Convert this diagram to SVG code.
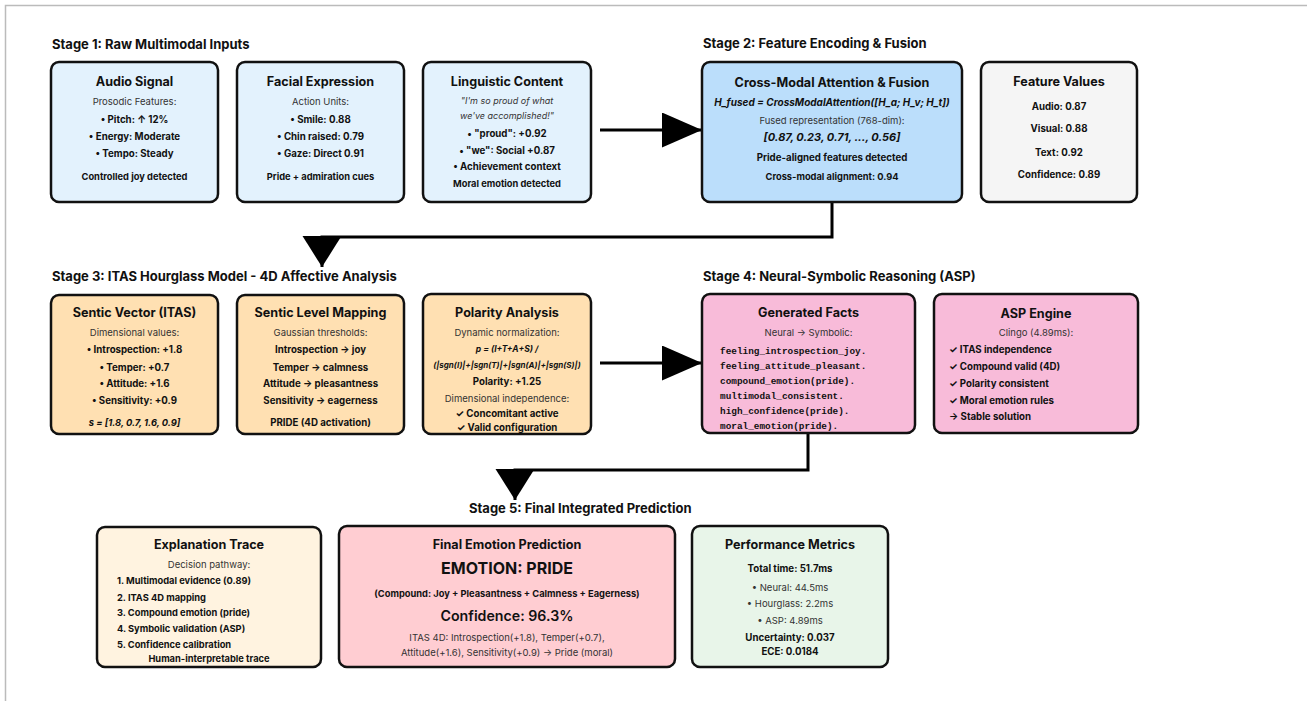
<svg xmlns="http://www.w3.org/2000/svg" width="1307" height="701" viewBox="0 0 1307 701">
<style>
text{font-family:Inter,"Liberation Sans",sans-serif;fill:#111;text-anchor:middle}
.st{font-size:13px;font-weight:700;text-anchor:start}
.bt{font-size:12.6px;font-weight:700}
.sub{font-size:9.5px;fill:#333}
.b{font-size:9.7px;font-weight:700}
.bs{font-size:9.3px;font-weight:700}
.it{font-size:9px;font-style:italic;fill:#333}
.bi{font-weight:700;font-style:italic}
.mono{font-family:"Liberation Mono","DejaVu Sans Mono",monospace;font-size:9.4px;font-weight:700;text-anchor:start}
.l{text-anchor:start}
.box{stroke:#111;stroke-width:2.5}
.c{fill:none;stroke:#000;stroke-width:3}
.frame{stroke:#bbb;stroke-width:1.5;fill:none}
</style>
<defs>
<marker id="ah" markerUnits="userSpaceOnUse" markerWidth="42" markerHeight="36" refX="40" refY="17.5" orient="auto"><path d="M0,0 L40,17.5 L0,35 z" fill="#000"/></marker>
<marker id="ahd" markerUnits="userSpaceOnUse" markerWidth="33" markerHeight="40" refX="31" refY="19.5" orient="auto"><path d="M0,0 L31,19.5 L0,39 z" fill="#000"/></marker>
</defs>
<rect width="1307" height="701" fill="#fff"/>
<path class="frame" d="M5.5,701 V5.5 H1307"/>

<text class="st" x="52" y="49">Stage 1: Raw Multimodal Inputs</text>
<text class="st" x="703" y="48">Stage 2: Feature Encoding &amp; Fusion</text>
<text class="st" x="52" y="281">Stage 3: ITAS Hourglass Model - 4D Affective Analysis</text>
<text class="st" x="703" y="281">Stage 4: Neural-Symbolic Reasoning (ASP)</text>
<text class="st" x="469" y="513">Stage 5: Final Integrated Prediction</text>

<g id="connectors">
<path class="c" d="M600,130 H702" marker-end="url(#ah)"/>
<path class="c" d="M832,202 V237 H322 V267" marker-end="url(#ahd)"/>
<path class="c" d="M600,363 H702" marker-end="url(#ah)"/>
<path class="c" d="M808,433 V470 H515 V500" marker-end="url(#ahd)"/>
</g>

<g id="audio">
<rect class="box" x="51" y="62" width="167" height="140" rx="8" fill="#e3f2fd"/>
<text class="bt" x="134.5" y="86">Audio Signal</text>
<text class="sub" x="134.5" y="105">Prosodic Features:</text>
<text class="b" x="134.5" y="123">• Pitch: ↑ 12%</text>
<text class="b" x="134.5" y="140">• Energy: Moderate</text>
<text class="b" x="134.5" y="157">• Tempo: Steady</text>
<text class="bs" x="134.5" y="180">Controlled joy detected</text>
</g>
<g id="facial">
<rect class="box" x="237" y="62" width="167" height="140" rx="8" fill="#e3f2fd"/>
<text class="bt" x="320.5" y="86">Facial Expression</text>
<text class="sub" x="320.5" y="105">Action Units:</text>
<text class="b" x="320.5" y="123">• Smile: 0.88</text>
<text class="b" x="320.5" y="140">• Chin raised: 0.79</text>
<text class="b" x="320.5" y="157">• Gaze: Direct 0.91</text>
<text class="bs" x="320.5" y="180">Pride + admiration cues</text>
</g>
<g id="linguistic">
<rect class="box" x="423" y="62" width="168" height="140" rx="8" fill="#e3f2fd"/>
<text class="bt" x="507" y="86">Linguistic Content</text>
<text class="it" x="507" y="103.5">"I'm so proud of what</text>
<text class="it" x="507" y="119">we've accomplished!"</text>
<text class="b" x="507" y="137">• "proud": +0.92</text>
<text class="b" x="507" y="154">• "we": Social +0.87</text>
<text class="b" x="507" y="170">• Achievement context</text>
<text class="bs" x="507" y="187">Moral emotion detected</text>
</g>
<g id="fusion">
<rect class="box" x="702" y="62" width="260" height="140" rx="8" fill="#bbdefb"/>
<text class="bt" x="832" y="87">Cross-Modal Attention &amp; Fusion</text>
<text class="bi" x="832" y="105.5" font-size="10">H_fused = CrossModalAttention([H_a; H_v; H_t])</text>
<text class="sub" x="832" y="123.5" font-size="9">Fused representation (768-dim):</text>
<text class="bi" x="832" y="141" font-size="11">[0.87, 0.23, 0.71, ..., 0.56]</text>
<text class="b" x="832" y="161">Pride-aligned features detected</text>
<text class="bs" x="832" y="180">Cross-modal alignment: 0.94</text>
</g>
<g id="features">
<rect class="box" x="981" y="62" width="156" height="140" rx="8" fill="#f5f5f5"/>
<text class="bt" x="1059" y="86">Feature Values</text>
<text class="b" x="1059" y="110">Audio: 0.87</text>
<text class="b" x="1059" y="132">Visual: 0.88</text>
<text class="b" x="1059" y="156">Text: 0.92</text>
<text class="b" x="1059" y="178">Confidence: 0.89</text>
</g>

<g id="sentic-vector">
<rect class="box" x="51" y="295" width="167" height="139" rx="8" fill="#ffe0b2"/>
<text class="bt" x="134.5" y="317">Sentic Vector (ITAS)</text>
<text class="sub" x="134.5" y="335.5">Dimensional values:</text>
<text class="b" x="134.5" y="353">• Introspection: +1.8</text>
<text class="b" x="134.5" y="370.5">• Temper: +0.7</text>
<text class="b" x="134.5" y="387">• Attitude: +1.6</text>
<text class="b" x="134.5" y="404">• Sensitivity: +0.9</text>
<text class="bi" x="134.5" y="425.5" font-size="9.3">s = [1.8, 0.7, 1.6, 0.9]</text>
</g>
<g id="sentic-level">
<rect class="box" x="237" y="295" width="167" height="139" rx="8" fill="#ffe0b2"/>
<text class="bt" x="320.5" y="317">Sentic Level Mapping</text>
<text class="sub" x="320.5" y="335.5">Gaussian thresholds:</text>
<text class="b" x="320.5" y="353">Introspection → joy</text>
<text class="b" x="320.5" y="370.5">Temper → calmness</text>
<text class="b" x="320.5" y="387">Attitude → pleasantness</text>
<text class="b" x="320.5" y="404">Sensitivity → eagerness</text>
<text class="b" x="320.5" y="425.5">PRIDE (4D activation)</text>
</g>
<g id="polarity">
<rect class="box" x="423" y="294" width="168" height="140" rx="8" fill="#ffe0b2"/>
<text class="bt" x="507" y="317">Polarity Analysis</text>
<text class="sub" x="507" y="335.5">Dynamic normalization:</text>
<text class="bi" x="507" y="352" font-size="8.5">p = (I+T+A+S) /</text>
<text class="bi" x="507" y="368" font-size="8">(|sgn(I)|+|sgn(T)|+|sgn(A)|+|sgn(S)|)</text>
<text class="b" x="507" y="385" font-size="11">Polarity: +1.25</text>
<text class="sub" x="507" y="401.5">Dimensional independence:</text>
<text class="b" x="507" y="417" font-size="10.5">✓ Concomitant active</text>
<text class="b" x="507" y="431" font-size="10.5">✓ Valid configuration</text>
</g>
<g id="facts">
<rect class="box" x="702" y="294" width="213" height="139" rx="8" fill="#f8bbd9"/>
<text class="bt" x="808.5" y="317">Generated Facts</text>
<text class="sub" x="808.5" y="335.5">Neural → Symbolic:</text>
<text class="mono" x="720" y="354">feeling_introspection_joy.</text>
<text class="mono" x="720" y="369">feeling_attitude_pleasant.</text>
<text class="mono" x="720" y="384">compound_emotion(pride).</text>
<text class="mono" x="720" y="399">multimodal_consistent.</text>
<text class="mono" x="720" y="414">high_confidence(pride).</text>
<text class="mono" x="720" y="429">moral_emotion(pride).</text>
</g>
<g id="asp">
<rect class="box" x="934" y="294" width="204" height="139" rx="8" fill="#f8bbd9"/>
<text class="bt" x="1036" y="318">ASP Engine</text>
<text class="sub" x="1036" y="335.5">Clingo (4.89ms):</text>
<text class="b l" x="949" y="353">✓ ITAS independence</text>
<text class="b l" x="949" y="370">✓ Compound valid (4D)</text>
<text class="b l" x="949" y="387">✓ Polarity consistent</text>
<text class="b l" x="949" y="404">✓ Moral emotion rules</text>
<text class="b l" x="949" y="420">→ Stable solution</text>
</g>

<g id="explanation">
<rect class="box" x="97" y="527" width="224" height="140" rx="8" fill="#fff3e0"/>
<text class="bt" x="209" y="549">Explanation Trace</text>
<text class="sub" x="209" y="567.5">Decision pathway:</text>
<text class="bs l" x="117" y="583.5">1. Multimodal evidence (0.89)</text>
<text class="bs l" x="117" y="600.5">2. ITAS 4D mapping</text>
<text class="bs l" x="117" y="616">3. Compound emotion (pride)</text>
<text class="bs l" x="117" y="631.5">4. Symbolic validation (ASP)</text>
<text class="bs l" x="117" y="647.5">5. Confidence calibration</text>
<text class="bs" x="209" y="661.5">Human-interpretable trace</text>
</g>
<g id="final">
<rect class="box" x="339" y="526" width="336" height="141" rx="8" fill="#ffcdd2"/>
<text class="bt" x="507" y="548.5" font-size="12">Final Emotion Prediction</text>
<text x="507" y="574" font-size="16" font-weight="700">EMOTION: PRIDE</text>
<text class="bs" x="507" y="596.5">(Compound: Joy + Pleasantness + Calmness + Eagerness)</text>
<text x="507" y="620.5" font-size="14.2" font-weight="600">Confidence: 96.3%</text>
<text class="sub" x="507" y="641" font-size="9">ITAS 4D: Introspection(+1.8), Temper(+0.7),</text>
<text class="sub" x="507" y="655.5" font-size="9">Attitude(+1.6), Sensitivity(+0.9) → Pride (moral)</text>
</g>
<g id="performance">
<rect class="box" x="692" y="526" width="196" height="141" rx="8" fill="#e8f5e9"/>
<text class="bt" x="790" y="549">Performance Metrics</text>
<text class="b" x="790" y="571.5">Total time: 51.7ms</text>
<text class="sub" x="790" y="590.5">• Neural: 44.5ms</text>
<text class="sub" x="790" y="606.5">• Hourglass: 2.2ms</text>
<text class="sub" x="790" y="623.5">• ASP: 4.89ms</text>
<text class="b" x="790" y="641" font-size="10.3">Uncertainty: 0.037</text>
<text class="b" x="790" y="655" font-size="10.3">ECE: 0.0184</text>
</g>
</svg>
